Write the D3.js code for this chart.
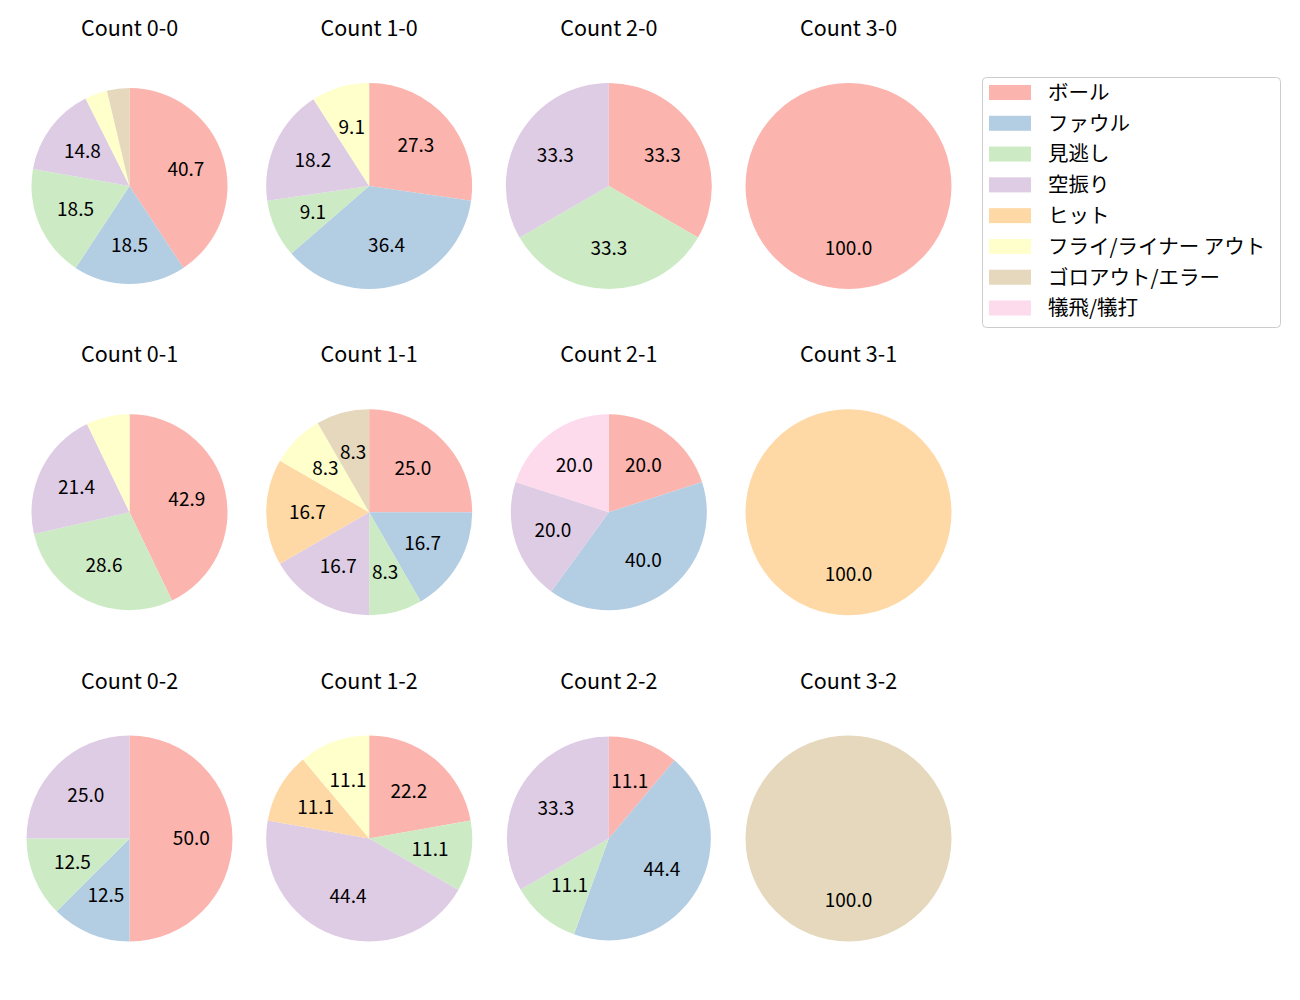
<!DOCTYPE html>
<html>
<head>
<meta charset="utf-8">
<script src="https://cdn.jsdelivr.net/npm/d3@7"></script>
<style>
  body { margin: 0; background: #fff; }
  text { font-family: "Noto Sans CJK JP", "Noto Sans", sans-serif; fill: #000; }
</style>
</head>
<body>
<script>
const WIDTH = 1300;
const HEIGHT = 1000;

// pitch result categories (legend order)
const categories = ['ボール', 'ファウル', '見逃し', '空振り', 'ヒット', 'フライ/ライナー アウト', 'ゴロアウト/エラー', '犠飛/犠打'];

// ball-strike counts, in grid order (row = strikes, col = balls)
const countLabels = ['0-0', '1-0', '2-0', '3-0', '0-1', '1-1', '2-1', '3-1', '0-2', '1-2', '2-2', '3-2'];

// number of pitches per category for each count
const pitchCounts = [
    [11, 5, 5, 4, 0, 1, 1, 0],
    [3, 4, 1, 2, 0, 1, 0, 0],
    [1, 0, 1, 1, 0, 0, 0, 0],
    [1, 0, 0, 0, 0, 0, 0, 0],
    [6, 0, 4, 3, 0, 1, 0, 0],
    [3, 2, 1, 2, 2, 1, 1, 0],
    [1, 2, 0, 1, 0, 0, 0, 1],
    [0, 0, 0, 0, 1, 0, 0, 0],
    [4, 1, 1, 2, 0, 0, 0, 0],
    [2, 0, 1, 4, 1, 1, 0, 0],
    [1, 4, 1, 3, 0, 0, 0, 0],
    [0, 0, 0, 0, 0, 0, 1, 0],
];

// pie radius per panel (layout)
const pieRadius = [98, 103, 103, 103, 98, 103, 98, 103, 103, 103, 102, 103];

const colorScale = d3.scaleOrdinal(categories, d3.schemePastel1);

const colX = d3.scaleLinear().domain([0, 3]).range([129.5, 848.5]);
const rowY = d3.scaleLinear().domain([0, 2]).range([186, 838.5]);

const svg = d3.select('body').append('svg')
    .attr('width', WIDTH)
    .attr('height', HEIGHT)
    .attr('viewBox', [0, 0, WIDTH, HEIGHT]);

const pie = d3.pie()
    .sort(null)
    .value(d => d.value)
    .startAngle(0)
    .endAngle(2 * Math.PI);

countLabels.forEach((label, i) => {
    const cx = colX(i % 4);
    const cy = rowY(Math.floor(i / 4));
    const r = pieRadius[i];
    const values = pitchCounts[i];
    const total = d3.sum(values);
    const slices = categories.map((name, k) => ({ name, value: values[k] }));

    const g = svg.append('g').attr('transform', `translate(${cx},${cy})`);

    g.append('text')
        .attr('x', 0)
        .attr('y', -150)
        .attr('text-anchor', 'middle')
        .attr('font-size', 21.5)
        .text(`Count ${label}`);

    const arcs = pie(slices).filter(d => d.data.value > 0);
    const arc = d3.arc().innerRadius(0).outerRadius(r);

    g.selectAll('path')
        .data(arcs)
        .join('path')
        .attr('d', arc)
        .attr('fill', d => colorScale(d.data.name));

    const labelArc = d3.arc().innerRadius(r * 0.6).outerRadius(r * 0.6);
    g.selectAll('text.pct')
        .data(arcs.filter(d => d.data.value / total * 100 >= 8))
        .join('text')
        .attr('class', 'pct')
        .attr('transform', d => `translate(${labelArc.centroid(d)})`)
        .attr('text-anchor', 'middle')
        .attr('dy', '0.36em')
        .attr('font-size', 19)
        .text(d => (d.data.value / total * 100).toFixed(1));
});

// legend
const legend = svg.append('g').attr('transform', 'translate(982,77)');
legend.append('rect')
    .attr('x', 0.5).attr('y', 0.5)
    .attr('width', 298).attr('height', 250)
    .attr('rx', 4)
    .attr('fill', '#fff')
    .attr('stroke', '#ccc');

const legendY = d3.scaleLinear().domain([0, categories.length - 1]).range([15.5, 231]);
const item = legend.selectAll('g.item')
    .data(categories)
    .join('g')
    .attr('class', 'item')
    .attr('transform', (d, i) => `translate(0,${legendY(i)})`);

item.append('rect')
    .attr('x', 7).attr('y', -7.5)
    .attr('width', 42).attr('height', 15)
    .attr('fill', d => colorScale(d));

item.append('text')
    .attr('x', 66)
    .attr('dy', '0.36em')
    .attr('font-size', 20.5)
    .text(d => d);
</script>
</body>
</html>
